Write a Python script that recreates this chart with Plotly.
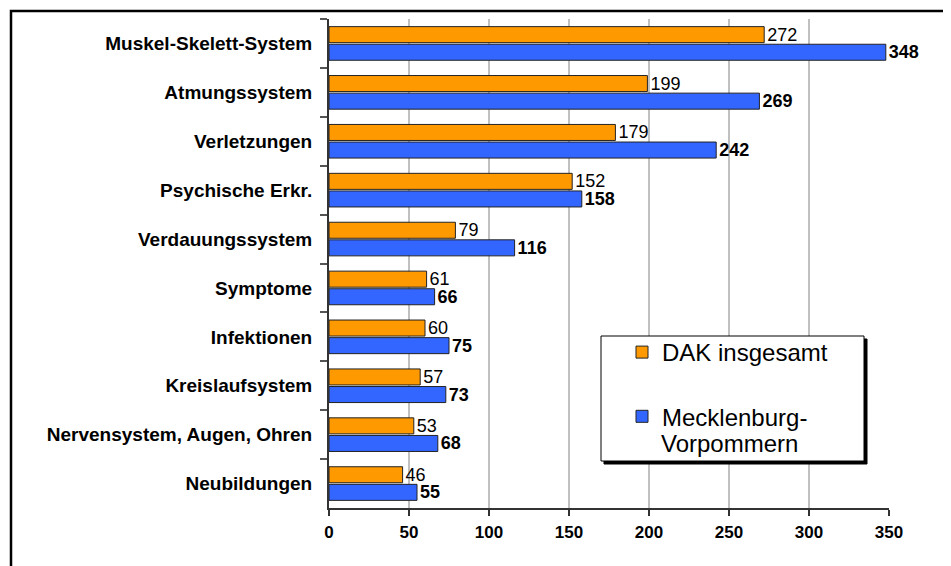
import plotly.graph_objects as go

categories = ["Muskel-Skelett-System", "Atmungssystem", "Verletzungen", "Psychische Erkr.",
              "Verdauungssystem", "Symptome", "Infektionen", "Kreislaufsystem",
              "Nervensystem, Augen, Ohren", "Neubildungen"]
dak_values = [272, 199, 179, 152, 79, 61, 60, 57, 53, 46]
mv_values = [348, 269, 242, 158, 116, 66, 75, 73, 68, 55]
series_names = ["DAK insgesamt", "Mecklenburg-"]
series_name_cont = "Vorpommern"
x_ticks = [0, 50, 100, 150, 200, 250, 300, 350]

OFF = 8  # default body margin of the page
W, H = 951 - OFF, 566 - OFF
L = 329 - OFF
T = 19 - OFF
R = W - (889 - OFF)
B = H - (508 - OFF)
PW, PH = W - L - R, H - T - B

def px(xw):
    return (xw - OFF - L) / PW

def py(yw):
    return (H - B - (yw - OFF)) / PH

FONT = "Arial, Liberation Sans, sans-serif"

fig = go.Figure()
fig.add_trace(go.Bar(
    y=categories, x=dak_values, orientation="h", name=series_names[0],
    marker=dict(color="#FF9900", line=dict(color="#222222", width=1)),
    text=dak_values, textposition="outside", cliponaxis=False, constraintext="none",
    textfont=dict(family=FONT, size=18, color="#000000"),
    legendgroup="a",
))
fig.add_trace(go.Bar(
    y=categories, x=mv_values, orientation="h", name=series_names[1],
    marker=dict(color="#3366FF", line=dict(color="#222222", width=1)),
    text=[f"<b>{v}</b>" for v in mv_values], textposition="outside", cliponaxis=False,
    constraintext="none",
    textfont=dict(family=FONT, size=18, color="#000000"),
    legendgroup="b",
))

shapes = [
    # outer border
    dict(type="rect", xref="paper", yref="paper", x0=px(11), x1=px(1000), y0=py(620), y1=py(11),
         line=dict(color="#000000", width=2.5), fillcolor="rgba(0,0,0,0)", layer="above"),
    # legend shadow
    dict(type="rect", xref="paper", yref="paper", x0=px(604), x1=px(867), y0=py(464), y1=py(339),
         line=dict(color="#000000", width=1), fillcolor="#000000", layer="above"),
    # legend box
    dict(type="rect", xref="paper", yref="paper", x0=px(601), x1=px(864), y0=py(461), y1=py(336),
         line=dict(color="#000000", width=1), fillcolor="#FFFFFF", layer="above"),
]

annotations = [
    dict(text=series_name_cont, xref="paper", yref="paper", x=px(659), y=py(443),
         xanchor="left", yanchor="middle", showarrow=False,
         font=dict(family=FONT, size=24, color="#000000")),
]

fig.update_layout(
    width=W, height=H,
    margin=dict(l=L, r=R, t=T, b=B, pad=0),
    paper_bgcolor="#FFFFFF", plot_bgcolor="#FFFFFF",
    barmode="group", bargap=0.28, bargroupgap=0.09,
    font=dict(family=FONT, color="#000000"),
    showlegend=True,
    legend=dict(x=px(622), y=py(330), xanchor="left", yanchor="top",
                bgcolor="rgba(0,0,0,0)", borderwidth=0,
                font=dict(family=FONT, size=24, color="#000000"),
                valign="top", tracegroupgap=30, traceorder="grouped"),
    shapes=shapes,
    annotations=annotations,
    xaxis=dict(range=[0, 350], tickvals=x_ticks, ticktext=[str(v) for v in x_ticks],
               showgrid=True, gridcolor="#C0C0C0", gridwidth=2, zeroline=False,
               showline=True, linecolor="#333333", linewidth=2,
               ticks="outside", ticklen=6, tickwidth=1.5, tickcolor="#333333",
               ticklabelstandoff=2,
               tickfont=dict(family=FONT, size=17, color="#000000", weight="bold"),
               fixedrange=True),
    yaxis=dict(autorange="reversed", showgrid=False, zeroline=False,
               showline=True, linecolor="#333333", linewidth=2,
               ticks="outside", ticklen=7, tickwidth=1.5, tickcolor="#555555",
               tickson="boundaries", ticklabelstandoff=11,
               tickfont=dict(family=FONT, size=19, color="#000000", weight="bold"),
               fixedrange=True),
)

fig.write_html("out.html")
